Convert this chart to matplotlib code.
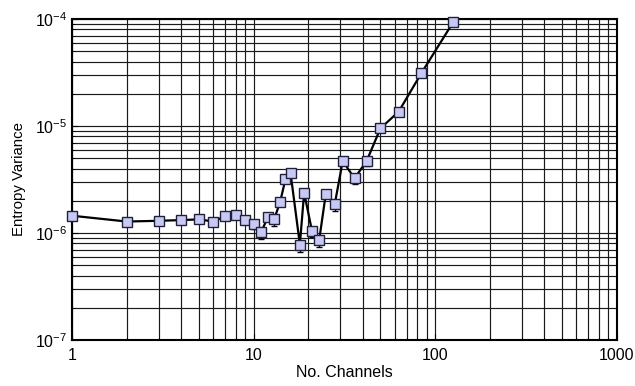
import numpy as np
import matplotlib
matplotlib.use("Agg")
import matplotlib.pyplot as plt

plt.rcParams["font.family"] = ["Liberation Sans", "DejaVu Sans"]
plt.rcParams["mathtext.default"] = "regular"

# ---------- Data ----------
channels = [1, 2, 3, 4, 5, 6, 7, 8, 9, 10, 11, 12, 13, 14, 15, 16,
            18, 19, 21, 23, 25, 28, 31, 36, 42, 50, 63, 84, 126]
variance = [1.45e-6, 1.28e-6, 1.30e-6, 1.32e-6, 1.34e-6, 1.28e-6, 1.44e-6,
            1.46e-6, 1.32e-6, 1.21e-6, 1.02e-6, 1.40e-6, 1.35e-6, 1.94e-6,
            3.20e-6, 3.61e-6, 7.8e-7, 2.38e-6, 1.04e-6, 8.6e-7, 2.31e-6,
            1.85e-6, 4.71e-6, 3.24e-6, 4.71e-6, 9.5e-6, 1.36e-5, 3.11e-5,
            9.37e-5]
err_low = [0.09e-6, 0.08e-6, 0.08e-6, 0.08e-6, 0.08e-6, 0.13e-6, 0.09e-6,
           0.09e-6, 0.11e-6, 0.12e-6, 0.14e-6, 0.09e-6, 0.19e-6, 0.12e-6,
           0.20e-6, 0.23e-6, 0.12e-6, 0.20e-6, 0.13e-6, 0.12e-6, 0.19e-6,
           0.26e-6, 0.30e-6, 0.39e-6, 0.48e-6, 0.6e-6, 0.86e-6, 2.0e-6,
           5.9e-6]

# ---------- Plot ----------
fig = plt.figure(figsize=(6.35, 3.86), dpi=100)
ax = fig.add_axes([0.1134, 0.1192, 0.8576, 0.8316])

ax.set_xscale("log")
ax.set_yscale("log")
ax.set_xlim(1, 1000)
ax.set_ylim(1e-7, 1e-4)

ax.grid(True, which="both", color="0.1", linewidth=0.85)
ax.set_axisbelow(True)

ax.errorbar(
    channels,
    variance,
    yerr=[err_low, np.zeros(len(err_low))],
    fmt="-s",
    color="black",
    linewidth=1.6,
    markersize=6.5,
    markerfacecolor="#c8c8f4",
    markeredgecolor="#20203a",
    markeredgewidth=1.0,
    ecolor="black",
    elinewidth=1.0,
    capsize=2,
    clip_on=False,
    zorder=3,
)

for side in ax.spines.values():
    side.set_linewidth(1.5)

ax.tick_params(which="both", direction="in", labelsize=11.5)
ax.tick_params(which="major", length=4)
ax.tick_params(which="minor", length=2)
ax.tick_params(axis="x", pad=6)
ax.xaxis.set_major_formatter(matplotlib.ticker.FuncFormatter(lambda v, p: f"{v:g}"))

ax.set_xlabel("No. Channels", fontsize=11.5, labelpad=1)
ax.set_ylabel("Entropy Variance", fontsize=10.8, labelpad=6)

fig.savefig("out.png", dpi=100)
